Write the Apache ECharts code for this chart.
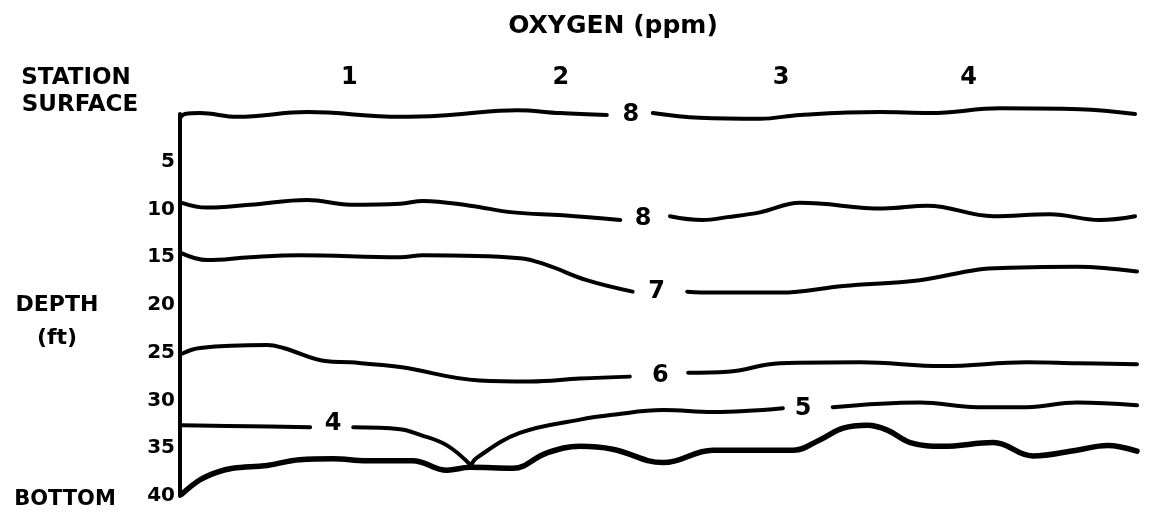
<!DOCTYPE html>
<html>
<head>
<meta charset="utf-8">
<title>OXYGEN (ppm)</title>
<script src="https://cdn.jsdelivr.net/npm/echarts@6/dist/echarts.min.js"></script>
<style>
    html, body { margin: 0; background: #fff; }
    #chart1 { width: 1152px; height: 514px; }
</style>
</head>
<body>
<div id="chart1"></div>
<script>
    // x = distance along the section (0-100), y = depth in ft
    // null marks the gap where the contour value is written
    var oxy8Surface = [[0, 0.4], [0.5, 0.0], [2.1, -0.1], [6.0, 0.3], [13.3, -0.2], [23.0, 0.3], [28.2, 0.1], [35.2, -0.4], [39.7, -0.1], [44.6, 0.1],
        null, [49.4, -0.1], [54.3, 0.4], [60.6, 0.5], [64.8, 0.1], [73.1, -0.2], [78.4, -0.1], [85.7, -0.6], [94.0, -0.5], [99.8, 0.0]];
    var oxy8 = [[0.2, 9.3], [2.8, 9.8], [7.3, 9.5], [13.3, 9.0], [17.8, 9.5], [23.0, 9.4], [25.4, 9.1], [30.3, 9.6], [34.8, 10.3], [40.0, 10.6], [46.0, 11.1],
        null, [51.2, 10.7], [54.6, 11.1], [57.2, 10.8], [60.6, 10.3], [64.8, 9.3], [73.5, 9.9], [78.1, 9.6], [85.0, 10.7], [90.9, 10.5], [96.1, 11.1], [99.8, 10.7]];
    var oxy7 = [[0.2, 14.6], [2.8, 15.3], [7.3, 15.0], [12.5, 14.8], [23.0, 15.0], [25.4, 14.8], [35.5, 15.1], [38.3, 15.8], [42.5, 17.4], [47.3, 18.6],
        null, [53.0, 18.6], [55.7, 18.7], [62.7, 18.7], [69.3, 18.0], [77.3, 17.4], [83.3, 16.3], [86.7, 16.1], [93.7, 16.0], [100, 16.5]];
    var oxy6 = [[0.2, 25.1], [2.1, 24.5], [9.1, 24.2], [10.8, 24.5], [15.4, 25.9], [17.8, 26.0], [23.0, 26.5], [31.3, 27.9], [36.6, 28.0], [41.8, 27.7], [47.0, 27.5],
        null, [53.1, 27.1], [57.2, 27.0], [62.7, 26.1], [71.1, 26.0], [79.7, 26.4], [88.5, 26.0], [93.7, 26.1], [100, 26.2]];
    var oxy4 = [[0.2, 32.6], [7.3, 32.7], [13.6, 32.8],
        null, [18.1, 32.8], [23.0, 33.0], [25.1, 33.6], [27.9, 34.7], [30.4, 36.8]];
    var oxy5 = [[30.4, 36.8], [31.0, 36.0], [35.5, 33.4], [41.8, 32.0], [45.2, 31.5], [50.5, 31.0], [55.7, 31.2], [63.0, 30.8],
        null, [68.2, 30.7], [77.3, 30.2], [83.3, 30.7], [88.5, 30.7], [93.7, 30.2], [100, 30.5]];
    var bottom = [[0.2, 39.8], [2.1, 38.3], [3.9, 37.5], [5.5, 37.1], [9.1, 36.8], [12.5, 36.2], [16.0, 36.1], [19.5, 36.3], [24.3, 36.3], [27.9, 37.3],
        [30.3, 37.0], [34.8, 37.1], [38.3, 35.5], [41.8, 34.8], [45.2, 35.1], [50.5, 36.5], [55.7, 35.2], [64.1, 35.2], [66.9, 34.1], [69.3, 32.9],
        [71.8, 32.6], [73.9, 33.1], [76.3, 34.4], [79.7, 34.8], [85.0, 34.4], [89.1, 35.8], [93.7, 35.2], [96.9, 34.7], [100, 35.3]];

    // contour values written in the gaps
    var contourText = ['8', '8', '7', '6', '4', '5'];
    var contourX = [47.1, 48.4, 49.8, 50.2, 16.0, 65.1];
    var contourDepth = [0.1, 11.0, 18.6, 27.4, 32.4, 30.9];

    // station numbers along the top
    var stations = ['1', '2', '3', '4'];
    var stationX = [17.7, 39.8, 62.8, 82.4];
    var stationDepth = -3.8;

    var depthTicks = [0, 40, 5];  // min, max, interval

    var font = '"DejaVu Sans", sans-serif';

    function splitAtGaps(arr) {
        var parts = [[]];
        arr.forEach(function (p) {
            if (p === null) parts.push([]);
            else parts[parts.length - 1].push(p);
        });
        return parts;
    }

    var series = [];
    [[oxy8Surface, 4], [oxy8, 4], [oxy7, 4], [oxy6, 4], [oxy4, 4], [oxy5, 4], [bottom, 5.5]].forEach(function (c) {
        splitAtGaps(c[0]).forEach(function (seg) {
            series.push({
                type: 'line',
                data: seg,
                smooth: 0.4,
                symbol: 'none',
                clip: false,
                lineStyle: { color: '#000', width: c[1], cap: 'round' }
            });
        });
    });

    function textSeries(names, xs, ys) {
        return {
            type: 'scatter',
            clip: false,
            symbolSize: 1,
            itemStyle: { color: 'rgba(0,0,0,0)', opacity: 1 },
            data: names.map(function (t, i) { return { value: [xs[i], Array.isArray(ys) ? ys[i] : ys], name: t }; }),
            label: { show: true, position: 'inside', formatter: '{b}', color: '#000', opacity: 1, fontSize: 24, fontWeight: 'bold', fontFamily: font }
        };
    }
    series.push(textSeries(contourText, contourX, contourDepth));
    series.push(textSeries(stations, stationX, stationDepth));

    function txt(s, x, y, size) {
        return {
            type: 'text', x: x, y: y,
            style: { text: s, fill: '#000', font: 'bold ' + size + 'px ' + font, textAlign: 'center', textVerticalAlign: 'middle' }
        };
    }

    var myChart1 = echarts.init(document.getElementById('chart1'));
    myChart1.setOption({
        animation: false,
        backgroundColor: '#fff',
        grid: { left: 180, right: 15, top: 114, bottom: 18 },
        xAxis: { type: 'value', min: 0, max: 100, show: false },
        yAxis: {
            type: 'value', inverse: true,
            min: depthTicks[0], max: depthTicks[1], interval: depthTicks[2],
            axisLine: { show: true, lineStyle: { color: '#000', width: 4 } },
            axisTick: { show: false },
            splitLine: { show: false },
            axisLabel: {
                margin: 5, color: '#000', fontSize: 20, fontWeight: 'bold', fontFamily: font,
                formatter: function (v) { return v === 0 ? '' : v; }
            }
        },
        graphic: [
            txt('OXYGEN (ppm)', 613, 26, 25),
            txt('STATION', 76, 78, 23),
            txt('SURFACE', 80, 105, 23),
            txt('DEPTH', 57, 305, 22),
            txt('(ft)', 57, 338, 22),
            txt('BOTTOM', 65, 500, 21)
        ],
        series: series
    });
</script>
</body>
</html>
